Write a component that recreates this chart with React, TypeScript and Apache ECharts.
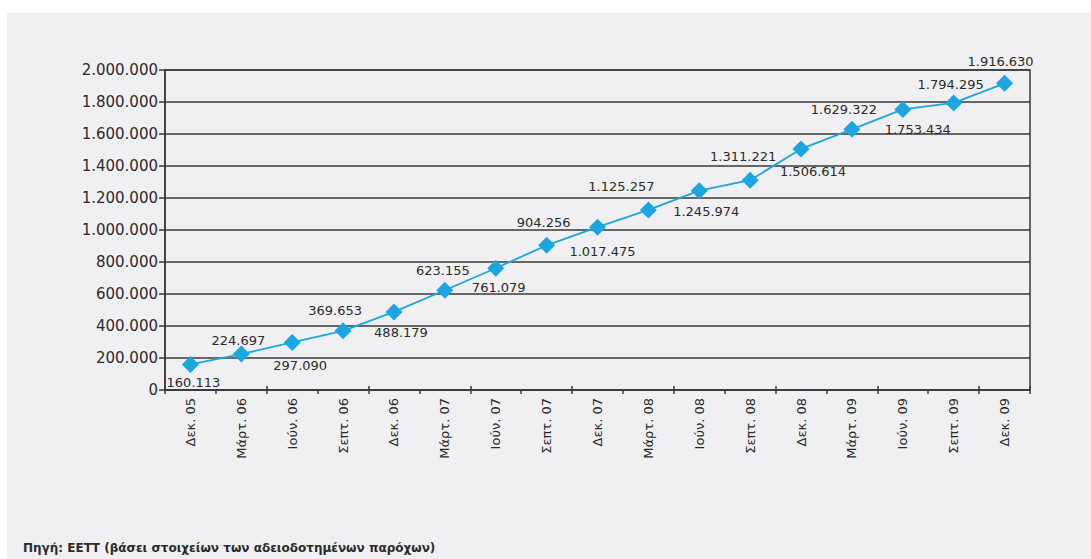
import React, { useEffect, useRef } from "react";
import * as echarts from "echarts";

const categories = [
  "Δεκ. 05", "Μάρτ. 06", "Ιούν. 06", "Σεπτ. 06", "Δεκ. 06", "Μάρτ. 07", "Ιούν. 07",
  "Σεπτ. 07", "Δεκ. 07", "Μάρτ. 08", "Ιούν. 08", "Σεπτ. 08", "Δεκ. 08", "Μάρτ. 09",
  "Ιούν. 09", "Σεπτ. 09", "Δεκ. 09",
];

const subscribers = [
  160113, 224697, 297090, 369653, 488179, 623155, 761079, 904256, 1017475,
  1125257, 1245974, 1311221, 1506614, 1629322, 1753434, 1794295, 1916630,
];

const yTicks = { min: 0, max: 2000000, interval: 200000 };

const sourceNote = "Πηγή: ΕΕΤΤ (βάσει στοιχείων των αδειοδοτημένων παρόχων)";

// label placement style (offset of each value label from its marker)
const labelOffsets: [number, number][] = [
  [3, 18], [-3, -14], [8, 23], [-8, -20], [7, 21], [-2, -20], [3, 19], [-3, -23],
  [5, 24], [-27, -23], [7, 21], [-7, -24], [12, 23], [-8, -20], [15, 20], [-3, -18], [-4, -22],
];

const fmt = (v: number) => String(Math.round(v)).replace(/\B(?=(\d{3})+(?!\d))/g, ".");

const TEXT = "#2b2b2b";
const FONT = "DejaVu Sans";

export default function App() {
  const ref = useRef<HTMLDivElement>(null);

  useEffect(() => {
    if (!ref.current) return;
    const chart = echarts.init(ref.current, undefined, { renderer: "svg" });
    chart.setOption({
      animation: false,
      backgroundColor: "#ffffff",
      textStyle: { fontFamily: FONT },
      graphic: [
        {
          type: "rect",
          z: -100,
          silent: true,
          shape: { x: 7, y: 13, width: 1084, height: 546 },
          style: { fill: "#f0f0f2" },
        },
        {
          type: "text",
          left: 23,
          top: 542,
          style: {
            text: sourceNote,
            fill: TEXT,
            font: `bold 12px "${FONT}"`,
          },
        },
      ],
      grid: {
        left: 165,
        right: 61,
        top: 70,
        bottom: 169,
        show: true,
        borderColor: "#3a3a3a",
        borderWidth: 1.5,
        backgroundColor: "transparent",
      },
      xAxis: [
        {
          type: "category",
          data: categories,
          boundaryGap: true,
          axisLine: { show: true, lineStyle: { color: "#3a3a3a", width: 1.5 } },
          axisTick: { show: true, alignWithLabel: false, length: 4, lineStyle: { color: "#3a3a3a", width: 1.5 } },
          axisLabel: {
            rotate: 90,
            margin: 8,
            color: TEXT,
            fontSize: 13,
            fontFamily: FONT,
          },
          splitLine: { show: false },
        },
        {
          type: "category",
          data: categories,
          position: "bottom",
          boundaryGap: true,
          axisLine: { show: false },
          axisTick: { show: true, inside: true, length: 4, lineStyle: { color: "#3a3a3a", width: 1.5 } },
          axisLabel: { show: false },
          splitLine: { show: false },
        },
      ],
      yAxis: {
        type: "value",
        min: yTicks.min,
        max: yTicks.max,
        interval: yTicks.interval,
        axisLine: { show: true, lineStyle: { color: "#3a3a3a", width: 1.5 } },
        axisTick: { show: true, length: 6, lineStyle: { color: "#3a3a3a", width: 1.5 } },
        axisLabel: {
          margin: 7,
          color: TEXT,
          fontSize: 15,
          fontFamily: FONT,
          formatter: (v: number) => fmt(v),
        },
        splitLine: { show: true, lineStyle: { color: "#3a3a3a", width: 1.5 } },
      },
      series: [
        {
          type: "line",
          data: subscribers.map((v, i) => ({
            value: v,
            label: { offset: labelOffsets[i] },
          })),
          symbol: "diamond",
          symbolSize: 17,
          itemStyle: { color: "#1ba6e2" },
          lineStyle: { color: "#1ba6e2", width: 1.8 },
          label: {
            show: true,
            position: "inside",
            align: "center",
            verticalAlign: "middle",
            color: TEXT,
            fontSize: 13,
            fontFamily: FONT,
            formatter: (p: any) => fmt(p.value),
          },
          z: 5,
        },
      ],
    });
    return () => chart.dispose();
  }, []);

  return (
    <div style={{ position: "fixed", left: 0, top: 0, width: 1091, height: 559, background: "#fff" }}>
      <div ref={ref} style={{ width: 1091, height: 559 }} />
    </div>
  );
}
